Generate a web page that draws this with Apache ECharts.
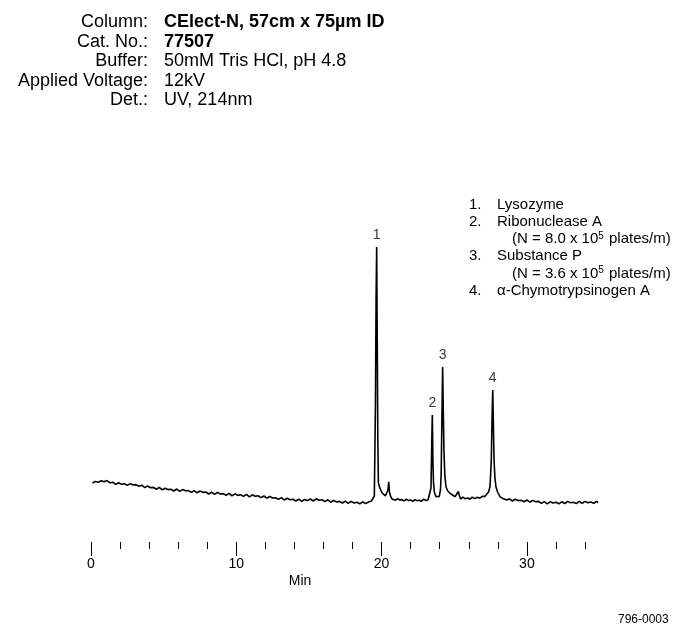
<!DOCTYPE html>
<html>
<head>
<meta charset="utf-8">
<script src="https://cdn.jsdelivr.net/npm/echarts@6/dist/echarts.min.js"></script>
<style>
  html, body { margin: 0; padding: 0; background: #fff; }
  #chart { width: 673px; height: 626px; }
</style>
</head>
<body>
<div id="chart"></div>
<script>
// electropherogram trace, [minutes, signal]
const baselineEarly = [
  [0.1, 3.70], [0.3, 3.86], [0.5, 3.78], [0.7, 3.92], [0.9, 3.82], [1.1, 3.94], [1.3, 3.72], [1.5, 3.78],
  [1.7, 3.56], [1.9, 3.72], [2.1, 3.58], [2.3, 3.62], [2.5, 3.46], [2.7, 3.64], [2.9, 3.50], [3.1, 3.54],
  [3.3, 3.38], [3.5, 3.48], [3.7, 3.24], [3.9, 3.40], [4.1, 3.22], [4.3, 3.26], [4.5, 3.08], [4.7, 3.26],
  [4.9, 3.02], [5.1, 3.18], [5.3, 3.04], [5.5, 3.08], [5.7, 2.90], [5.9, 3.10], [6.1, 2.86], [6.3, 3.04],
  [6.5, 2.92], [6.7, 2.94], [6.9, 2.76], [7.1, 2.94], [7.3, 2.72], [7.5, 2.90], [7.7, 2.76], [7.9, 2.80],
  [8.1, 2.60], [8.3, 2.78], [8.5, 2.56], [8.7, 2.76], [8.9, 2.60], [9.1, 2.64], [9.3, 2.48], [9.5, 2.66],
  [9.7, 2.42], [9.9, 2.62], [10.1, 2.46], [10.3, 2.52], [10.5, 2.36], [10.7, 2.56], [10.9, 2.32], [11.1, 2.52],
  [11.3, 2.38], [11.5, 2.42], [11.7, 2.24], [11.9, 2.40], [12.1, 2.18], [12.3, 2.36], [12.5, 2.20], [12.7, 2.22],
  [12.9, 2.06], [13.1, 2.24], [13.3, 2.00], [13.5, 2.18], [13.7, 2.02], [13.9, 2.08], [14.1, 1.90], [14.3, 2.08],
  [14.5, 1.86], [14.7, 2.06], [14.9, 1.94], [15.1, 2.10], [15.3, 1.90], [15.5, 2.12], [15.7, 1.98], [15.9, 2.02],
  [16.1, 1.84], [16.3, 2.02], [16.5, 1.78], [16.7, 1.96], [16.9, 1.80], [17.1, 1.86], [17.3, 1.70], [17.5, 1.88],
  [17.7, 1.66], [17.9, 1.86], [18.1, 1.70], [18.3, 1.78], [18.5, 1.62], [18.7, 1.82], [18.9, 1.64], [19.1, 1.80],
  [19.3, 1.90], [19.4, 2.10]
];
const peakRegion = [
  [19.50, 2.40], [19.58, 12.0], [19.62, 22.0], [19.66, 27.3], [19.70, 18.0], [19.74, 8.0], [19.78, 3.70],
  [19.86, 3.30], [19.94, 3.00], [20.04, 2.70], [20.14, 2.50], [20.26, 2.42], [20.36, 2.36], [20.44, 3.00],
  [20.49, 3.83], [20.54, 2.80], [20.63, 2.33], [20.72, 2.10], [20.80, 2.20], [20.95, 1.98], [21.10, 2.14],
  [21.25, 2.00], [21.40, 2.04], [21.55, 1.90], [21.70, 2.08], [21.85, 1.94], [22.00, 2.00], [22.15, 1.86],
  [22.30, 2.04], [22.45, 1.92], [22.60, 1.98], [22.75, 1.88], [22.90, 2.08], [23.05, 1.94], [23.20, 2.02],
  [23.33, 2.10], [23.40, 3.20], [23.45, 7.5], [23.49, 10.5], [23.53, 6.0], [23.57, 3.8], [23.63, 2.80],
  [23.74, 2.33], [23.85, 2.30], [23.97, 2.36], [24.05, 3.00], [24.10, 4.60], [24.15, 10.0], [24.20, 15.3],
  [24.25, 10.5], [24.29, 7.0], [24.35, 4.50], [24.43, 3.33], [24.55, 2.90], [24.71, 2.67], [24.88, 2.50],
  [25.05, 2.33], [25.18, 2.40], [25.28, 2.85], [25.36, 2.40], [25.44, 2.10], [25.60, 2.28], [25.76, 2.12],
  [25.92, 2.20], [26.08, 2.08], [26.24, 2.28], [26.40, 2.14], [26.56, 2.26], [26.77, 2.20], [26.95, 2.38],
  [27.10, 2.34], [27.23, 2.50], [27.36, 2.80], [27.46, 3.33], [27.55, 6.00], [27.60, 10.0], [27.65, 13.0],
  [27.70, 9.0], [27.74, 6.0], [27.80, 4.20], [27.87, 3.33], [27.98, 2.80], [28.15, 2.33], [28.35, 2.14],
  [28.61, 2.00]
];
const baselineLate = [
  [28.8, 2.12], [29.0, 1.90], [29.2, 2.08], [29.4, 1.94], [29.6, 1.98], [29.8, 1.82], [30.0, 2.00], [30.2, 1.78],
  [30.4, 1.96], [30.6, 1.82], [30.8, 1.86], [31.0, 1.66], [31.2, 1.84], [31.4, 1.62], [31.6, 1.82], [31.8, 1.70],
  [32.0, 1.78], [32.2, 1.62], [32.4, 1.82], [32.6, 1.64], [32.8, 1.86], [33.0, 1.72], [33.2, 1.78], [33.4, 1.64],
  [33.6, 1.86], [33.8, 1.68], [34.0, 1.86], [34.2, 1.72], [34.4, 1.80], [34.6, 1.68], [34.8, 1.86], [34.9, 1.74]
];

const peakNames = ['1', '2', '3', '4'];
const peakTimes = [19.66, 23.49, 24.20, 27.65];
const peakHeights = [27.3, 10.5, 15.3, 13.0];

const tickLabels = ['0', '10', '20', '30'];

const headerKeys = ['Column:', 'Cat. No.:', 'Buffer:', 'Applied Voltage:', 'Det.:'];
const headerValues = ['CElect-N, 57cm x 75µm ID', '77507', '50mM Tris HCl, pH 4.8', '12kV', 'UV, 214nm'];
const headerBold = [true, true, false, false, false];

const FONT = '"Liberation Sans", Arial, Helvetica, sans-serif';
const trace = baselineEarly.concat(peakRegion, baselineLate);

const chart = echarts.init(document.getElementById('chart'));

// header block
const graphics = [];
headerKeys.forEach(function (k, i) {
  const y = 22 + i * 19.6;
  graphics.push({
    type: 'text', x: 148, y: y,
    style: { text: k, font: '18px ' + FONT, fill: '#000', textAlign: 'right', textVerticalAlign: 'middle' }
  });
  graphics.push({
    type: 'text', x: 164, y: y,
    style: {
      text: headerValues[i],
      font: (headerBold[i] ? 'bold ' : '') + '18px ' + FONT,
      fill: '#000', textAlign: 'left', textVerticalAlign: 'middle'
    }
  });
});

// peak list
const legendRows = [
  ['1.', 'Lysozyme', 0],
  ['2.', 'Ribonuclease A', 0],
  ['', '(N = 8.0 x 10{sup|5} plates/m)', 1],
  ['3.', 'Substance P', 0],
  ['', '(N = 3.6 x 10{sup|5} plates/m)', 1],
  ['4.', 'α-Chymotrypsinogen A', 0]
];
legendRows.forEach(function (r, i) {
  const y = 205 + i * 17.1;
  if (r[0]) {
    graphics.push({
      type: 'text', x: 469, y: y,
      style: { text: r[0], font: '15px ' + FONT, fill: '#000', textVerticalAlign: 'middle' }
    });
  }
  graphics.push({
    type: 'text', x: r[2] ? 512 : 497, y: y,
    style: {
      text: r[1], font: '15px ' + FONT, fill: '#000', textVerticalAlign: 'middle',
      rich: { sup: { fontSize: 10, verticalAlign: 'top', padding: [0, 1, 6, 0] } }
    }
  });
});

graphics.push({
  type: 'text', x: 300, y: 581,
  style: { text: 'Min', font: '14px ' + FONT, fill: '#000', textAlign: 'center', textVerticalAlign: 'middle' }
});
graphics.push({
  type: 'text', x: 618, y: 620,
  style: { text: '796-0003', font: '12px ' + FONT, fill: '#000', textVerticalAlign: 'middle' }
});

const pxPerMin = 14.53;

const option = {
  animation: false,
  backgroundColor: '#fff',
  textStyle: { fontFamily: FONT },
  graphic: graphics,
  grid: [
    { left: 91, top: 200, width: 35 * pxPerMin, height: 320 },
    { left: 91, top: 200, width: 34 * pxPerMin, height: 342 },
    { left: 91, top: 200, width: 30 * pxPerMin, height: 342 }
  ],
  xAxis: [
    { gridIndex: 0, type: 'value', min: 0, max: 35, show: false },
    {
      gridIndex: 1, type: 'value', min: 0, max: 34, interval: 2,
      axisLine: { show: false },
      axisTick: { show: true, length: 7, lineStyle: { color: '#000', width: 1 } },
      axisLabel: { show: false },
      splitLine: { show: false }
    },
    {
      gridIndex: 2, type: 'value', min: 0, max: 30, interval: 10,
      axisLine: { show: false },
      axisTick: { show: true, length: 14, lineStyle: { color: '#000', width: 1 } },
      axisLabel: {
        show: true, margin: 15, fontSize: 14, color: '#000', fontFamily: FONT,
        formatter: function (v) { return tickLabels[Math.round(v / 10)]; }
      },
      splitLine: { show: false }
    }
  ],
  yAxis: [
    { gridIndex: 0, type: 'value', min: 0, max: 32, show: false },
    { gridIndex: 1, type: 'value', min: 0, max: 1, show: false },
    { gridIndex: 2, type: 'value', min: 0, max: 1, show: false }
  ],
  series: [
    {
      type: 'line',
      xAxisIndex: 0, yAxisIndex: 0,
      data: trace,
      showSymbol: false,
      symbol: 'none',
      lineStyle: { color: '#000', width: 1.6 }
    },
    {
      type: 'scatter',
      xAxisIndex: 0, yAxisIndex: 0,
      symbolSize: 1,
      itemStyle: { color: 'rgba(0,0,0,0)' },
      data: peakNames.map(function (n, i) {
        return { name: n, value: [peakTimes[i], peakHeights[i]] };
      }),
      label: {
        show: true, position: 'top', distance: 4,
        formatter: '{b}', fontSize: 14, color: '#000', fontFamily: FONT
      }
    }
  ]
};

chart.setOption(option);
</script>
</body>
</html>
